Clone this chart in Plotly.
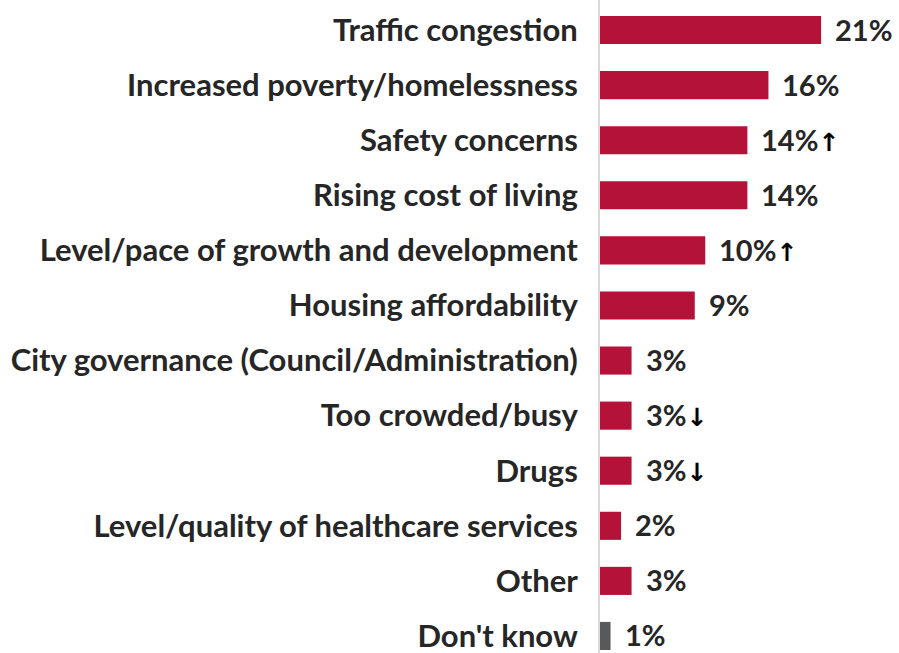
import plotly.graph_objects as go

categories = [
    "Traffic congestion",
    "Increased poverty/homelessness",
    "Safety concerns",
    "Rising cost of living",
    "Level/pace of growth and development",
    "Housing affordability",
    "City governance (Council/Administration)",
    "Too crowded/busy",
    "Drugs",
    "Level/quality of healthcare services",
    "Other",
    "Don't know",
]
values = [21, 16, 14, 14, 10, 9, 3, 3, 3, 2, 3, 1]
trends = ["", "", "up", "", "up", "", "", "down", "down", "", "", ""]

RED = "#B5123A"
GRAY = "#58595B"
TEXT = "#262626"
FONT = "Lato"

colors = [GRAY if c == "Don't know" else RED for c in categories]

fig = go.Figure()
fig.add_trace(go.Bar(
    x=values,
    y=categories,
    orientation="h",
    marker=dict(color=colors, line=dict(width=0)),
    width=0.51,
    hoverinfo="skip",
))

ARROW_STYLE = "font-family:DejaVu Sans;font-weight:bold;font-size:25px;color:#000"
arrow = {"up": f"<span style='{ARROW_STYLE}'>\u2191</span>",
         "down": f"<span style='{ARROW_STYLE}'>\u2193</span>", "": ""}
for c, v, t in zip(categories, values, trends):
    fig.add_annotation(
        x=v, y=c, xref="x", yref="y",
        text=f"<b>{v}%</b>{arrow[t]}",
        showarrow=False, xanchor="left", yanchor="middle",
        xshift=12, yshift=1,
        font=dict(family=FONT, size=29, color=TEXT),
    )

fig.update_layout(
    width=899, height=653,
    margin=dict(l=600, r=0, t=0, b=0),
    paper_bgcolor="white", plot_bgcolor="white",
    showlegend=False,
    bargap=0.49,
    font=dict(family=FONT, color=TEXT),
)
fig.update_xaxes(range=[0, 28.4], visible=False, showgrid=False, zeroline=False)
fig.update_yaxes(
    range=[11.309, -0.545],
    showgrid=False, zeroline=False,
    showline=True, linecolor="#D9D9D9", linewidth=2,
    ticks="", ticklabelstandoff=14,
    tickfont=dict(family=FONT, size=31, color=TEXT, weight="bold"),
)

fig.write_html("out.html", config={"displayModeBar": False, "staticPlot": True},
               post_script="document.body.style.margin='0';document.body.style.overflow='hidden';")
